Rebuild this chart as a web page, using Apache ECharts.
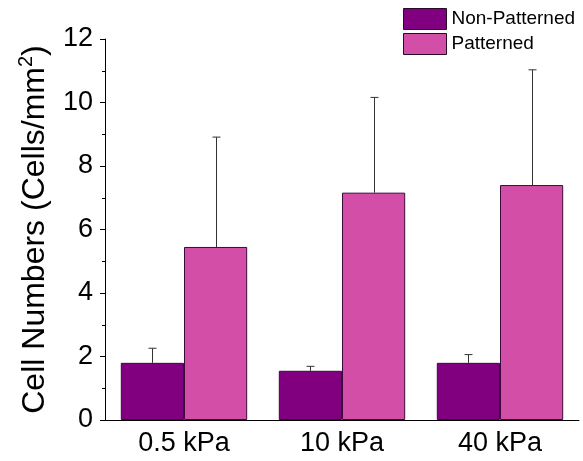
<!DOCTYPE html>
<html lang="en">
<head>
    <meta charset="UTF-8">
    <title>Cell Numbers</title>
    <style>
        html,body{margin:0;padding:0;background:#fff;}
        #mychart{width:583px;height:461px;}
    </style>
</head>
<body>
    <div id="mychart"></div>
    <script src="https://cdn.jsdelivr.net/npm/echarts@6/dist/echarts.min.js"></script>
    <script>
        var categories=['0.5 kPa','10 kPa','40 kPa']
        var nonPatterned=[1.80,1.55,1.80]
        var nonPatternedErr=[0.46,0.14,0.26]
        var patterned=[5.45,7.16,7.40]
        var patternedErr=[3.46,3.00,3.63]
        var yTicks=[0,2,4,6,8,10,12]

        var font='"Liberation Sans", Arial, sans-serif'
        var myChart=echarts.init(document.getElementById('mychart'))

        //单侧误差棒(只画上半部分)
        function errorBar(seriesIdx){
            return function(params,api){
                var x=api.value(0)
                var v=api.value(1)
                var e=api.value(2)
                var p0=api.coord([x,v])
                var p1=api.coord([x,v+e])
                var size=api.size([1,0])[0]
                var bw=size*0.8/2
                var cx=Math.round(p0[0]+(seriesIdx==0?-bw/2:bw/2))+0.5
                var style={stroke:'#333',lineWidth:1}
                return {type:'group',children:[
                    {type:'line',shape:{x1:cx,y1:p0[1],x2:cx,y2:p1[1]},style:style},
                    {type:'line',shape:{x1:cx-4,y1:p1[1],x2:cx+4,y2:p1[1]},style:style}
                ]}
            }
        }

        var option={
            animation:false,
            grid:{left:105,right:4,top:39,bottom:41},
            legend:{
                orient:'vertical',
                left:403,top:8,padding:0,
                itemWidth:43,itemHeight:21,itemGap:3,
                icon:'rect',
                itemStyle:{borderColor:'#2a0a2a',borderWidth:1},
                textStyle:{fontFamily:font,fontSize:19,color:'#000'},
                data:['Non-Patterned','Patterned']
            },
            xAxis:[{
                type:'category',
                data:categories,
                axisLine:{lineStyle:{color:'#000',width:1}},
                axisTick:{alignWithLabel:true,length:6,lineStyle:{color:'#000'}},
                axisLabel:{fontFamily:font,fontSize:27,color:'#000',margin:10}
            },{
                type:'category',
                data:categories,
                position:'bottom',
                axisLine:{show:false},
                axisTick:{length:3,lineStyle:{color:'#000'}},
                axisLabel:{show:false}
            }],
            yAxis:{
                type:'value',
                min:yTicks[0],max:yTicks[yTicks.length-1],interval:2,
                name:'Cell Numbers (Cells/mm{sup|2})',
                nameLocation:'middle',
                nameGap:51,
                nameTextStyle:{fontFamily:font,fontSize:32,color:'#000',
                    rich:{sup:{fontFamily:font,fontSize:20,verticalAlign:'top',padding:[0,0,18,0],color:'#000'}}},
                axisLine:{show:true,lineStyle:{color:'#000',width:1}},
                axisTick:{show:true,length:5,lineStyle:{color:'#000'}},
                minorTick:{show:true,splitNumber:2,length:3,lineStyle:{color:'#000'}},
                splitLine:{show:false},
                axisLabel:{fontFamily:font,fontSize:27,color:'#000',margin:12}
            },
            series:[{
                name:'Non-Patterned',
                type:'bar',
                data:nonPatterned,
                barGap:'0%',
                barCategoryGap:'20%',
                itemStyle:{color:'#800080',borderColor:'#3a0a3a',borderWidth:1}
            },{
                name:'Patterned',
                type:'bar',
                data:patterned,
                itemStyle:{color:'#D34FA7',borderColor:'#3a0a3a',borderWidth:1}
            },{
                type:'custom',
                renderItem:errorBar(0),
                data:nonPatterned.map(function(v,i){return [i,v,nonPatternedErr[i]]}),
                z:1
            },{
                type:'custom',
                renderItem:errorBar(1),
                data:patterned.map(function(v,i){return [i,v,patternedErr[i]]}),
                z:1
            }]
        }
        myChart.setOption(option)
    </script>
</body>
</html>
